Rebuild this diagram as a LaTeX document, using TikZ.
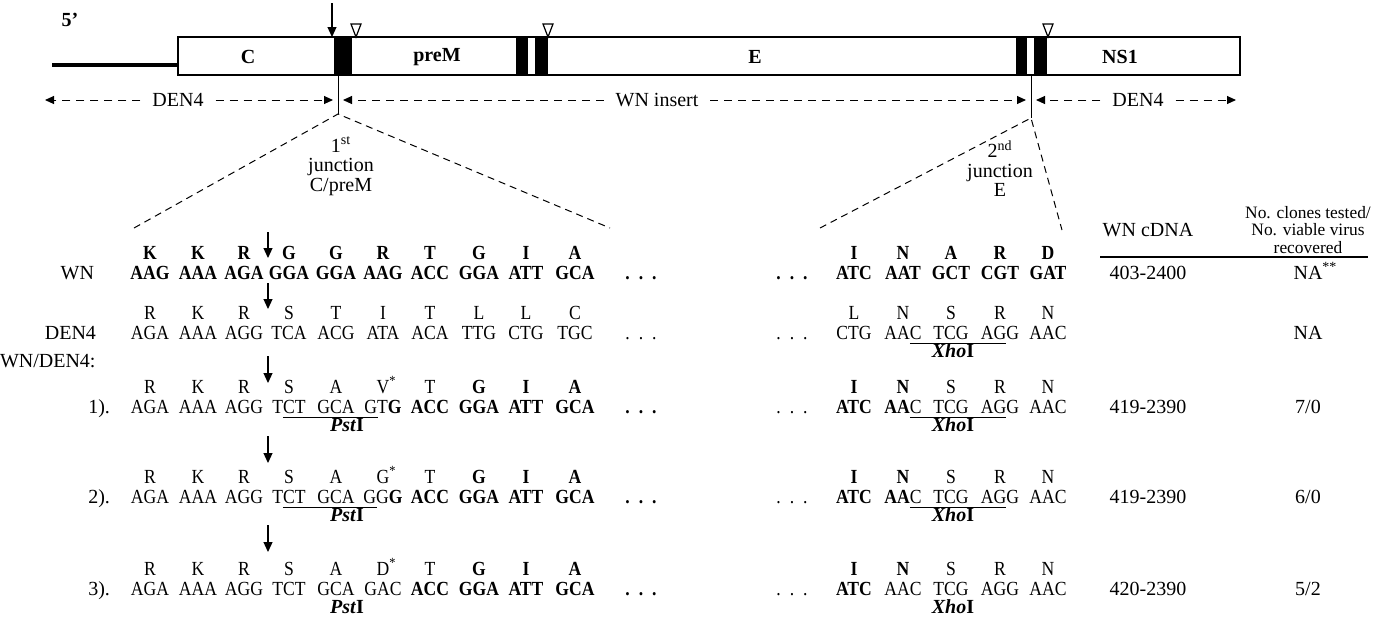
\documentclass[tikz,border=0pt]{standalone}
\usepackage{fontspec}
\setmainfont{Liberation Serif}
\newfontfamily\sq[FakeStretch=0.88]{Liberation Serif}
\usetikzlibrary{arrows.meta,calc}
\newcommand\fs{\fontsize{10}{12}\selectfont}
\newcommand\pst{\textbf{\textit{Pst}I}}
\newcommand\xho{\textbf{\textit{Xho}I}}
\newcommand\sdots{.\hspace{4.5pt}.\hspace{4.5pt}.}
\begin{document}
\begin{tikzpicture}[x=0.5pt,y=-0.5pt,
  every node/.style={inner sep=0pt,outer sep=0pt,font=\fs},
  t/.style={anchor=base,font=\fs\sq},
  b/.style={anchor=base,font=\fs\sq\bfseries},
  n/.style={anchor=base,font=\fs},
  lab/.style={font=\fs\bfseries},
  jtxt/.style={anchor=north,align=center,font=\fontsize{10}{9.75}\selectfont},
  dlab/.style={inner xsep=6pt},
  jarrow/.style={-{Triangle[length=5pt,width=4.5pt]},line width=0.6pt},
  darrow/.style={dash pattern=on 4pt off 3pt,line width=0.5pt,-{Triangle[length=4.5pt,width=4pt]}},
  zoomline/.style={dash pattern=on 3.5pt off 2.5pt,line width=0.5pt},
  ul/.style={line width=0.5pt},
  tri/.style={line width=0.6pt,fill=white},
]
\useasboundingbox (0,0) rectangle (1378,623);

% ---------- genome bar ----------
\node[anchor=base,font=\fs\bfseries] (five) at (70,26) {5’};
\coordinate (tail0) at (52,65);
\coordinate (tail1) at (178,65);
\draw[line width=2pt] (tail0) -- (tail1);
\draw[line width=0.6pt] (178,37) rectangle (1240,75);
\foreach \a/\b in {334/352,516/528,535/548,1016/1027,1034/1047}
  \fill ({\a},37) rectangle ({\b},75);
\node[lab] (gC) at (248,57) {C};
\node[lab] (gpreM) at (437,57) {preM};
\node[lab] (gE) at (755,57) {E};
\node[lab] (gNS) at (1120,57) {NS1};
\coordinate (ta0) at (332,3);
\coordinate (ta1) at (332,37);
\draw[jarrow] (ta0) -- (ta1);
\foreach \x in {356,548,1048}
  \draw[tri] ({\x-5},24) -- ({\x+5},24) -- ({\x},37) -- cycle;

% ---------- junction lines ----------
\coordinate (j1top) at (338,75);
\coordinate (j1) at (338,114);
\coordinate (j2top) at (1031,75);
\coordinate (j2) at (1031,118);
\draw[line width=0.5pt] (j1top) -- (j1);
\draw[line width=0.5pt] (j2top) -- (j2);

% ---------- dashed region arrows ----------
\node[dlab] (dA) at (178,100) {DEN4};
\coordinate (dA0) at (45,100);
\coordinate (dA1) at (333,100);
\draw[darrow] (dA.west) -- (dA0);
\draw[darrow] (dA.east) -- (dA1);
\node[dlab] (dB) at (657,100) {WN insert};
\coordinate (dB0) at (343,100);
\coordinate (dB1) at (1026,100);
\draw[darrow] (dB.west) -- (dB0);
\draw[darrow] (dB.east) -- (dB1);
\node[dlab] (dC) at (1138,100) {DEN4};
\coordinate (dC0) at (1036,100);
\coordinate (dC1) at (1236,100);
\draw[darrow] (dC.west) -- (dC0);
\draw[darrow] (dC.east) -- (dC1);

% ---------- zoom lines ----------
\coordinate (z1l) at (134,228);
\coordinate (z1r) at (610,228);
\coordinate (z2l) at (820,228);
\coordinate (z2r) at (1062,230);
\draw[zoomline] (z1l) -- (j1) -- (z1r);
\draw[zoomline] (z2l) -- (j2) -- (z2r);
\node[jtxt] (jt1) at (341,137) {1\textsuperscript{st}\\junction\\C/preM};
\node[jtxt] (jt2) at (1000,141) {2\textsuperscript{nd}\\junction\\E};

% ---------- table header ----------
\node[n] (h1) at (1148,236) {WN cDNA};
\node[align=center,font=\fontsize{8.7}{8.6}\selectfont] (h2) at (1308,230) {No. clones tested/\\No. viable virus\\recovered};
\coordinate (rule0) at (1100,257);
\coordinate (rule1) at (1368,257);
\draw[line width=0.6pt] (rule0) -- (rule1);

% ---------- row labels ----------
\node[anchor=base east] (lwn) at (94,279) {WN};
\node[anchor=base east] (lden) at (96,339) {DEN4};
\node[anchor=base west] (lwd) at (0,367) {WN/DEN4:};
\node[anchor=base east] (l1) at (110,413) {1).};
\node[anchor=base east] (l2) at (110,503) {2).};
\node[anchor=base east] (l3) at (110,595) {3).};

% ---------- junction arrows ----------
\foreach \a/\b [count=\i] in {232/258,283/309,356/383,436/463,525/552}{
  \coordinate (ka\i) at (268,\a);
  \coordinate (kb\i) at (268,\b);
  \draw[jarrow] (ka\i) -- (kb\i);
}

% ---------- WN ----------
\foreach \s/\x [count=\i] in {K/150,K/198,R/244,G/289,G/336,R/383,T/430,G/479,I/526,A/575}
  \node[b] (wna\i) at (\x,259) {\s};
\foreach \s/\x [count=\i] in {AAG/150,AAA/198,AGA/244,GGA/289,GGA/336,AAG/383,ACC/430,GGA/479,ATT/526,GCA/575}
  \node[b] (wnc\i) at (\x,279) {\s};
\node[b] (wnd1) at (641,279) {\sdots};
\node[b] (wnd2) at (792,279) {\sdots};
\foreach \s/\x [count=\i] in {I/854,N/903,A/951,R/1000,D/1048}
  \node[b] (wnra\i) at (\x,259) {\s};
\foreach \s/\x [count=\i] in {ATC/854,AAT/903,GCT/951,CGT/1000,GAT/1048}
  \node[b] (wnrc\i) at (\x,279) {\s};
\node[n] (wncd) at (1148,279) {403-2400};
\node[n] (wnnv) at (1308,279) {NA\rlap{\textsuperscript{**}}};

% ---------- DEN4 ----------
\foreach \s/\x [count=\i] in {R/150,K/198,R/244,S/289,T/336,I/383,T/430,L/479,L/526,C/575}
  \node[t] (dna\i) at (\x,319) {\s};
\foreach \s/\x [count=\i] in {AGA/150,AAA/198,AGG/244,TCA/289,ACG/336,ATA/383,ACA/430,TTG/479,CTG/526,TGC/575}
  \node[t] (dnc\i) at (\x,339) {\s};
\node[t] (dnd1) at (641,339) {\sdots};
\node[t] (dnd2) at (792,339) {\sdots};
\foreach \s/\x [count=\i] in {L/854,N/903,S/951,R/1000,N/1048}
  \node[t] (dnra\i) at (\x,319) {\s};
\foreach \s/\x [count=\i] in {CTG/854,AAC/903,TCG/951,AGG/1000,AAC/1048}
  \node[t] (dnrc\i) at (\x,339) {\s};
\draw[ul] ($(dnrc2.base west)+(25.4,4)$) -- ($(dnrc4.base west)+(25.5,4)$);
\node[n] (dnx) at (953,357) {\xho};
\node[n] (dnnv) at (1308,339) {NA};

% ---------- rows 1-3 ----------
\foreach \r/\y/\v/\g in {1/413/V/GT\textbf{G}, 2/503/G/GG\textbf{G}, 3/595/D/GAC}{
  \foreach \s/\x [count=\i] in {R/150,K/198,R/244,S/289,A/336,{\v\rlap{\textsuperscript{*}}}/383,T/430,\textbf{G}/479,\textbf{I}/526,\textbf{A}/575}
    \node[t] (r\r a\i) at (\x,\y-20) {\s};
  \foreach \s/\x [count=\i] in {AGA/150,AAA/198,AGG/244,TCT/289,GCA/336,{\g}/383,\textbf{ACC}/430,\textbf{GGA}/479,\textbf{ATT}/526,\textbf{GCA}/575}
    \node[t] (r\r c\i) at (\x,\y) {\s};
  \node[b] (r\r d1) at (641,\y) {\sdots};
  \node[t] (r\r d2) at (792,\y) {\sdots};
  \node[n] (r\r p) at (347,\y+18) {\pst};
  \foreach \s/\x [count=\i] in {\textbf{I}/854,\textbf{N}/903,S/951,R/1000,N/1048}
    \node[t] (r\r ra\i) at (\x,\y-20) {\s};
  \node[n] (r\r x) at (953,\y+18) {\xho};
}
% right codons rows 1-3
\foreach \s/\x [count=\i] in {\textbf{ATC}/854,{\textbf{AA}C}/903,TCG/951,AGG/1000,AAC/1048}{
  \node[t] (r1rc\i) at (\x,413) {\s};
  \node[t] (r2rc\i) at (\x,503) {\s};
}
\foreach \s/\x [count=\i] in {\textbf{ATC}/854,AAC/903,TCG/951,AGG/1000,AAC/1048}
  \node[t] (r3rc\i) at (\x,595) {\s};
% underlines
\foreach \r in {1,2}{
  \draw[ul] ($(r\r c4.base west)+(10.5,4)$) -- ($(r\r c6.base west)+(13.5,4)$);
  \draw[ul] ($(r\r rc2.base west)+(25.4,4)$) -- ($(r\r rc4.base west)+(25.5,4)$);
}
% table values
\node[n] (v1a) at (1148,413) {419-2390};
\node[n] (v1b) at (1308,413) {7/0};
\node[n] (v2a) at (1148,503) {419-2390};
\node[n] (v2b) at (1308,503) {6/0};
\node[n] (v3a) at (1148,595) {420-2390};
\node[n] (v3b) at (1308,595) {5/2};
\end{tikzpicture}
\end{document}
